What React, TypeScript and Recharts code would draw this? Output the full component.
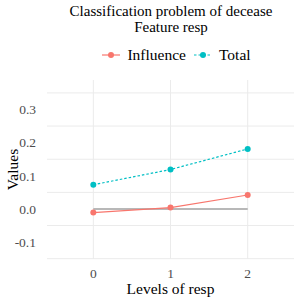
import { CartesianGrid, Line, LineChart, XAxis, YAxis } from "recharts";

const levels = [0, 1, 2];
const influence = [-0.011, 0.004, 0.042];
const total = [0.073, 0.119, 0.181];
const baseline = [0, 0, 0];
const yTicks = [-0.1, 0, 0.1, 0.2, 0.3];
const yGrid = [-0.15, -0.1, -0.05, 0, 0.05, 0.1, 0.15, 0.2, 0.25, 0.3, 0.35];

const data = levels.map((lvl, i) => ({
	level: lvl,
	influence: influence[i],
	total: total[i],
	baseline: baseline[i],
}));

const font = "'Liberation Serif', serif";
const red = "#F8766D";
const teal = "#00BFC4";

export default function App() {
	return (
		<div style={{ position: "absolute", left: 0, top: 0, width: 300, height: 300, background: "white", fontFamily: font }}>
			<div style={{ position: "absolute", left: 45, width: 252, top: 3, textAlign: "center", fontSize: 15, lineHeight: "16px", color: "#000" }}>
				Classification problem of decease
				<br />
				Feature resp
			</div>
			<div style={{ position: "absolute", left: 50, width: 252, top: 46, display: "flex", justifyContent: "center", alignItems: "center", fontSize: 15.5, color: "#000" }}>
				<svg width={20} height={10} style={{ marginRight: 6 }}>
					<line x1={1} y1={5} x2={19} y2={5} stroke={red} strokeWidth={1.2} />
					<circle cx={10} cy={5} r={3} fill={red} />
				</svg>
				<span style={{ marginRight: 7 }}>Influence</span>
				<svg width={20} height={10} style={{ marginRight: 6 }}>
					<line x1={1} y1={5} x2={19} y2={5} stroke={teal} strokeWidth={1.2} strokeDasharray="2.5 2" />
					<circle cx={10} cy={5} r={3} fill={teal} />
				</svg>
				<span>Total</span>
			</div>
			<LineChart width={300} height={300} data={data} margin={{ top: 80, right: 6, bottom: 0, left: 0 }} style={{ position: "absolute", left: 0, top: 0 }}>
				<CartesianGrid
					stroke="#ebebeb"
					strokeWidth={1}
					horizontalValues={yGrid}
					verticalValues={levels}
				/>
				<XAxis
					dataKey="level"
					type="number"
					domain={[-0.6, 2.6]}
					ticks={levels}
					axisLine={false}
					tickLine={false}
					height={41}
					tick={{ fill: "#4d4d4d", fontSize: 13.5, fontFamily: font }}
					tickMargin={3}
					label={{ value: "Levels of resp", position: "insideBottom", offset: 6, fill: "#000", fontSize: 15.5, fontFamily: font }}
				/>
				<YAxis
					type="number"
					domain={[-0.151, 0.389]}
					ticks={yTicks}
					tickFormatter={(v: number) => v.toFixed(1)}
					axisLine={false}
					tickLine={false}
					width={47}
					tick={{ fill: "#4d4d4d", fontSize: 13.5, fontFamily: font }}
					tickMargin={5}
					label={{ value: "Values", angle: -90, position: "insideLeft", offset: 12, fill: "#000", fontSize: 15.5, fontFamily: font, style: { textAnchor: "middle" } }}
				/>
				<Line dataKey="baseline" stroke="#a0a0a0" strokeWidth={1.5} dot={false} isAnimationActive={false} />
				<Line dataKey="influence" stroke={red} strokeWidth={1.2} dot={{ r: 3, fill: red, stroke: "none" }} isAnimationActive={false} />
				<Line dataKey="total" stroke={teal} strokeWidth={1.2} strokeDasharray="2.5 2" dot={{ r: 3, fill: teal, stroke: "none", strokeDasharray: "" }} isAnimationActive={false} />
			</LineChart>
		</div>
	);
}
